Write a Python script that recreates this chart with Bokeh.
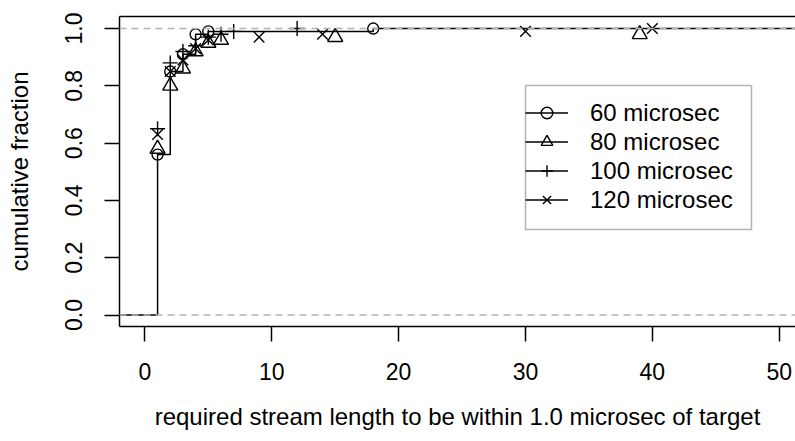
from bokeh.plotting import figure
from bokeh.models import (Range1d, LinearAxis, FixedTicker, Span, Legend,
                          LegendItem, NumeralTickFormatter, BoxAnnotation)
from bokeh.embed import file_html
from bokeh.resources import INLINE

# Required stream length (knots) and cumulative fraction for each pulse width
len_60 = [1, 2, 3, 4, 5, 18]
cdf_60 = [0.56, 0.85, 0.91, 0.98, 0.99, 1.00]

len_80 = [1, 2, 3, 4, 5, 6, 15, 39]
cdf_80 = [0.58, 0.80, 0.86, 0.92, 0.95, 0.96, 0.97, 0.98]

len_100 = [1, 2, 3, 4, 5, 6, 7, 12]
cdf_100 = [0.65, 0.88, 0.92, 0.94, 0.97, 0.98, 0.99, 1.00]

len_120 = [1, 2, 3, 4, 5, 9, 14, 30, 40]
cdf_120 = [0.63, 0.85, 0.89, 0.93, 0.96, 0.97, 0.98, 0.99, 1.00]

series_labels = ["60 microsec", "80 microsec", "100 microsec", "120 microsec"]
x_ticks = [0, 10, 20, 30, 40, 50]
y_ticks = [0.0, 0.2, 0.4, 0.6, 0.8, 1.0]

FONT = "Liberation Sans"
TICK_FS = "23px"
FS = "24px"
W, H = 795, 441
LEFT, RIGHT, TOP, BOTTOM = 119, 0, 16, 115
X0, X1 = -2.0, 51.28
Y0, Y1 = -0.04, 1.042

p = figure(width=W, height=H, output_backend="svg", toolbar_location=None,
           x_range=Range1d(X0, X1), y_range=Range1d(Y0, Y1),
           x_axis_location=None, y_axis_location=None,
           min_border_left=LEFT, min_border_right=RIGHT,
           min_border_top=TOP, min_border_bottom=BOTTOM)
p.outline_line_color = None
p.xgrid.visible = False
p.ygrid.visible = False
p.background_fill_color = "white"
p.border_fill_color = "white"

# bottom axis
xa = LinearAxis(ticker=FixedTicker(ticks=x_ticks),
                axis_label="required stream length to be within 1.0 microsec of target")
# left axis
ya = LinearAxis(ticker=FixedTicker(ticks=y_ticks), axis_label="cumulative fraction",
                formatter=NumeralTickFormatter(format="0.0"))
for ax in (xa, ya):
    ax.axis_line_color = "black"
    ax.axis_line_width = 1.5
    ax.major_tick_line_color = "black"
    ax.major_tick_line_width = 1.5
    ax.major_tick_in = 0
    ax.major_tick_out = 15
    ax.minor_tick_line_color = None
    ax.major_label_text_font = FONT
    ax.major_label_text_font_size = TICK_FS
    ax.major_label_text_color = "black"
    ax.axis_label_text_font = FONT
    ax.axis_label_text_font_size = FS
    ax.axis_label_text_font_style = "normal"
    ax.axis_label_text_color = "black"
xa.major_label_standoff = 21
xa.axis_label_standoff = 20
ya.major_label_orientation = "vertical"
ya.major_label_standoff = 22
ya.axis_label_standoff = 30
p.add_layout(xa, "below")
p.add_layout(ya, "left")

# top edge of the box
ta = LinearAxis(ticker=FixedTicker(ticks=[]))
ta.axis_line_color = "black"
ta.axis_line_width = 1.5
ta.major_tick_line_color = None
ta.minor_tick_line_color = None
ta.major_label_text_font_size = "0px"
p.add_layout(ta, "above")

# empirical CDF step line for the 60 microsec series
step_x = [X0] + len_60 + [52.0]
step_y = [0.0] + cdf_60 + [cdf_60[-1]]
p.step(step_x, step_y, mode="after", line_color="black", line_width=1.5)

LW = 1.4
r60 = p.scatter(len_60, cdf_60, marker="circle", size=11, fill_color=None,
                line_color="black", line_width=LW)
r80 = p.scatter(len_80, cdf_80, marker="triangle", size=15, fill_color=None,
                line_color="black", line_width=LW)
r100 = p.scatter(len_100, cdf_100, marker="cross", size=15, fill_color=None,
                 line_color="black", line_width=LW)
r120 = p.scatter(len_120, cdf_120, marker="x", size=15, fill_color=None,
                 line_color="black", line_width=LW)

# reference lines at 0 and 1
for yv in (0.0, 1.0):
    p.add_layout(Span(location=yv, dimension="width", line_color="#B3B3B3",
                      line_dash="7 5", line_width=1.5))

# legend frame placed in canvas pixels, converted to data space
frame_w = W - LEFT - RIGHT
frame_h = H - TOP - BOTTOM
def px_x(px):
    return X0 + (px - LEFT) / frame_w * (X1 - X0)
def px_y(py):
    return Y1 - (py - TOP) / frame_h * (Y1 - Y0)

p.add_layout(BoxAnnotation(left=px_x(525), right=px_x(751), top=px_y(85),
                           bottom=px_y(229), fill_color=None,
                           line_color="black", line_width=1.5))

# legend entries: each shows a line through its marker (line kept off-canvas)
items = []
for lab, r in zip(series_labels, (r60, r80, r100, r120)):
    lr = p.line(x=[200, 201], y=[5, 5], line_color="black", line_width=1.4)
    items.append(LegendItem(label=lab, renderers=[lr, r]))
leg = Legend(items=items, location=(406, 112), orientation="vertical",
             label_text_font=FONT, label_text_font_size=FS,
             label_text_color="black", glyph_width=43, glyph_height=29,
             label_height=29, label_standoff=22, padding=6, spacing=0, margin=0,
             border_line_color=None, background_fill_alpha=0.0)
p.add_layout(leg, "center")

open("out.html", "w").write(file_html(p, INLINE))
